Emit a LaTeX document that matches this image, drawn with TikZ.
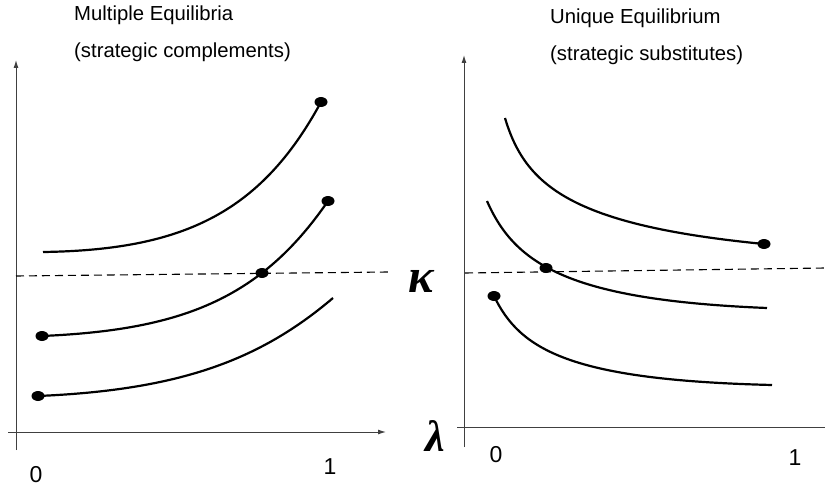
\documentclass[tikz,border=0pt]{standalone}
\usepackage{fontspec}
\setmainfont{Liberation Sans}
\newfontfamily\grk{Liberation Serif}
\usetikzlibrary{arrows.meta,shapes.geometric}
\begin{document}
\begin{tikzpicture}[x=1pt,y=-1pt,
  axis/.style={draw=black!75, line width=1pt},
  curve/.style={line width=2.2pt},
  dashline/.style={dash pattern=on 8pt off 5pt, line width=1.1pt},
  dot/.style={ellipse, fill=black, inner sep=0pt, minimum width=13pt, minimum height=10pt},
  title/.style={font=\fontsize{20.3}{24}\selectfont, anchor=west, inner sep=0pt},
  num/.style={font=\fontsize{23}{26}\selectfont, inner sep=0pt},
  tip/.style={-{Latex[length=8pt,width=5pt]}}]
\useasboundingbox (0,0) rectangle (825,487);
% titles
\node[title] (t1) at (74,15) {Multiple Equilibria};
\node[title] (t2) at (74,52) {(strategic complements)};
\node[title] (t3) at (550,18) {Unique Equilibrium};
\node[title] (t4) at (550,55) {(strategic substitutes)};
% left axes
\coordinate (ly0) at (16,450); \coordinate (ly1) at (16,60);
\coordinate (lx0) at (8,432);  \coordinate (lx1) at (386,432);
\draw[axis,tip] (ly0) -- (ly1);
\draw[axis,tip] (lx0) -- (lx1);
% right axes
\coordinate (ry0) at (464,447); \coordinate (ry1) at (464,55);
\coordinate (rx0) at (457,427); \coordinate (rx1) at (825,427);
\draw[axis,tip] (ry0) -- (ry1);
\draw[axis] (rx0) -- (rx1);
% dashed kappa lines
\coordinate (ld0) at (16,276); \coordinate (ld1) at (388,272);
\coordinate (rd0) at (465,273); \coordinate (rd1) at (825,268);
\draw[dashline] (ld0) -- (ld1);
\draw[dashline] (rd0) -- (rd1);
% labels
\node[font=\grk\bfseries\itshape\fontsize{48}{48}\selectfont, inner sep=0pt] (kappa) at (421,281) {κ};
\node[font=\grk\bfseries\itshape\fontsize{44}{44}\selectfont, inner sep=0pt] (lambda) at (435,436) {λ};
\node[num] (l0) at (36,475) {0};
\node[num] (l1) at (330,467) {1};
\node[num] (r0) at (496,455) {0};
\node[num] (r1) at (795,458) {1};
% left curves
\node[dot] (a1) at (321,102) {};
\coordinate (a0) at (43,252);
\draw[curve] (a0) .. controls (180,250) and (260,215) .. (a1.center);
\node[dot] (b0) at (42,336) {};
\node[dot] (b1) at (262,273) {};
\node[dot] (b2) at (328,201) {};
\draw[curve] (b0.center) .. controls (180,330) and (260,300) .. (b2.center);
\node[dot] (c0) at (38,396) {};
\coordinate (c1) at (333,298);
\draw[curve] (c0.center) .. controls (180,390) and (260,360) .. (c1);
% right curves
\coordinate (d0) at (505,118);
\node[dot] (d1) at (764,244) {};
\draw[curve] (d0) .. controls (525,185) and (570,225) .. (d1.center);
\coordinate (e0) at (487,201);
\node[dot] (e1) at (546,268) {};
\coordinate (e2) at (767,308);
\draw[curve] (e0) .. controls (515,265) and (570,300) .. (e2);
\node[dot] (f0) at (494,296) {};
\coordinate (f1) at (772,385);
\draw[curve] (f0.center) .. controls (520,350) and (570,380) .. (f1);
\end{tikzpicture}
\end{document}
